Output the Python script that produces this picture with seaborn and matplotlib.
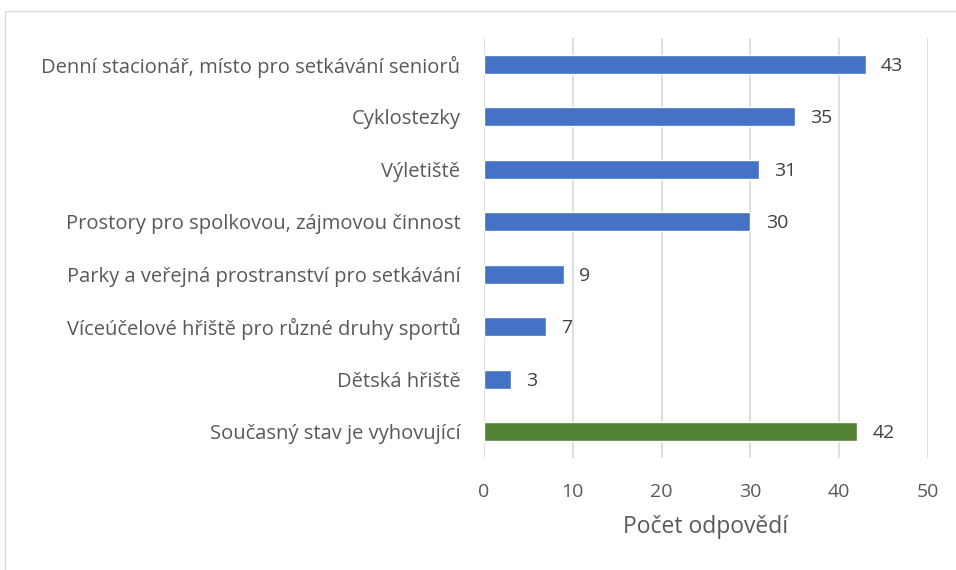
import matplotlib.pyplot as plt
import seaborn as sns
import pandas as pd
from matplotlib.patches import Rectangle

categories = [
    "Denní stacionář, místo pro setkávání seniorů",
    "Cyklostezky",
    "Výletiště",
    "Prostory pro spolkovou, zájmovou činnost",
    "Parky a veřejná prostranství pro setkávání",
    "Víceúčelové hřiště pro různé druhy sportů",
    "Dětská hřiště",
    "Současný stav je vyhovující",
]
counts = [43, 35, 31, 30, 9, 7, 3, 42]
colors = ["#4472C4"] * 7 + ["#548235"]

df = pd.DataFrame({"kategorie": categories, "pocet": counts})

sns.set_style("white")
plt.rcParams["font.family"] = ["Open Sans", "DejaVu Sans"]
text_color = "#595959"

fig = plt.figure(figsize=(9.56, 5.70), dpi=100)
ax = fig.add_axes([484 / 956, 1 - 458 / 570, (928 - 484) / 956, (458 - 38) / 570])

sns.barplot(data=df, x="pocet", y="kategorie", hue="kategorie",
            palette=colors, legend=False, width=0.37, saturation=1,
            ax=ax, orient="h")

for i, v in enumerate(counts):
    ax.annotate(str(v), (v, i), xytext=(11, -1), textcoords="offset points",
                va="center", ha="left", fontsize=14, color="#404040")

ax.set_xlim(0, 50)
ax.set_xticks(range(0, 51, 10))
ax.xaxis.grid(True, color="#D9D9D9", linewidth=1.2)
ax.set_axisbelow(True)
for s in ax.spines.values():
    s.set_visible(False)
ax.tick_params(axis="x", length=0, pad=18, labelsize=14, labelcolor=text_color)
ax.tick_params(axis="y", length=0, pad=17, labelsize=14.5, labelcolor=text_color)
ax.set_ylabel("")
ax.set_xlabel("Počet odpovědí", fontsize=16.5, color=text_color, labelpad=10)

# chart frame
fig.patches.append(Rectangle((5 / 956, -0.1), 1.2, 1 - 11 / 570 + 0.1,
                             transform=fig.transFigure, fill=False,
                             edgecolor="#D9D9D9", linewidth=1))

fig.savefig("out.png", dpi=100)
